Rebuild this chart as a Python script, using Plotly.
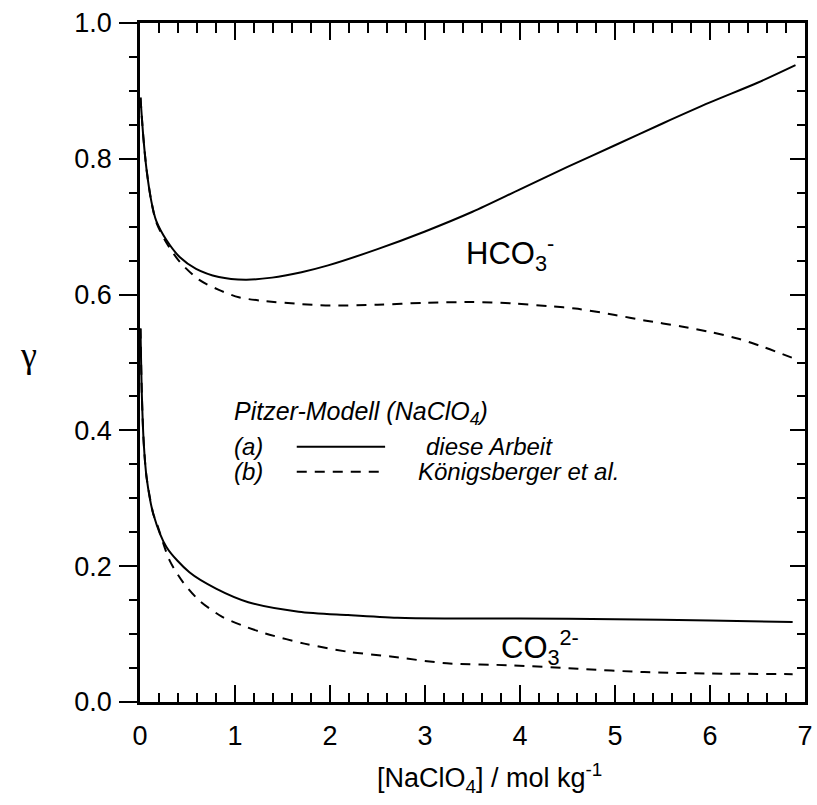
import plotly.graph_objects as go

# ---- data ----
hco3_a_x = [0.005, 0.035, 0.07, 0.12, 0.17, 0.28, 0.42, 0.59, 0.83, 1.11, 1.39, 1.70, 1.98,
            2.5, 3.0, 3.5, 4.0, 4.5, 5.0, 5.5, 6.0, 6.5, 6.9]
hco3_a_y = [0.89, 0.832, 0.783, 0.737, 0.709, 0.680, 0.655, 0.638, 0.626, 0.622, 0.625, 0.633, 0.643,
            0.667, 0.693, 0.722, 0.755, 0.788, 0.820, 0.852, 0.883, 0.912, 0.938]

hco3_b_x = [0.005, 0.035, 0.07, 0.12, 0.17, 0.28, 0.42, 0.62, 0.83, 1.04, 1.28, 1.70, 2.0, 2.5,
            3.0, 3.5, 3.92, 4.3, 4.61, 5.0, 5.31, 5.7, 6.0, 6.3, 6.56, 6.9]
hco3_b_y = [0.89, 0.832, 0.783, 0.737, 0.707, 0.676, 0.648, 0.622, 0.607, 0.596, 0.591, 0.586, 0.584, 0.585,
            0.588, 0.589, 0.587, 0.583, 0.579, 0.570, 0.562, 0.553, 0.545, 0.535, 0.523, 0.505]

co3_a_x = [0.005, 0.02, 0.04, 0.07, 0.14, 0.28, 0.52, 0.80, 1.14, 1.67, 2.19, 2.71, 3.23,
           4.0, 5.0, 6.0, 6.87]
co3_a_y = [0.55, 0.45, 0.38, 0.33, 0.277, 0.228, 0.191, 0.167, 0.147, 0.133, 0.128, 0.124, 0.123,
           0.123, 0.122, 0.120, 0.118]

co3_b_x = [0.005, 0.02, 0.04, 0.07, 0.14, 0.17, 0.31, 0.45, 0.62, 0.87, 1.11, 1.32, 1.73, 2.19, 2.64,
           3.23, 3.92, 4.61, 5.31, 6.0, 6.87]
co3_b_y = [0.55, 0.45, 0.38, 0.33, 0.277, 0.266, 0.209, 0.177, 0.150, 0.125, 0.111, 0.101, 0.086, 0.074, 0.067,
           0.057, 0.054, 0.049, 0.044, 0.042, 0.041]

x_tickvals = [0, 1, 2, 3, 4, 5, 6, 7]
x_ticktext = ["0", "1", "2", "3", "4", "5", "6", "7"]
y_tickvals = [0.0, 0.2, 0.4, 0.6, 0.8, 1.0]
y_ticktext = ["0.0", "0.2", "0.4", "0.6", "0.8", "1.0"]

legend_sample_x = [1.65, 2.58]
legend_a_y = 0.376
legend_b_y = 0.339

FONT = "Liberation Sans, Arial, Helvetica, sans-serif"
DASH = "10px,8px"

fig = go.Figure()

def curve(x, y, dash):
    fig.add_trace(go.Scatter(x=x, y=y, mode="lines", showlegend=False, hoverinfo="skip",
                             line=dict(color="black", width=2, dash=dash, shape="spline", smoothing=0.8)))

curve(hco3_a_x, hco3_a_y, "solid")
curve(hco3_b_x, hco3_b_y, DASH)
curve(co3_a_x, co3_a_y, "solid")
curve(co3_b_x, co3_b_y, DASH)

# legend sample lines
fig.add_trace(go.Scatter(x=legend_sample_x, y=[legend_a_y] * 2, mode="lines", showlegend=False,
                         hoverinfo="skip", line=dict(color="black", width=2)))
fig.add_trace(go.Scatter(x=legend_sample_x, y=[legend_b_y] * 2, mode="lines", showlegend=False,
                         hoverinfo="skip", line=dict(color="black", width=2, dash=DASH)))

# dummy trace for the mirror axes
fig.add_trace(go.Scatter(x=[None], y=[None], xaxis="x2", yaxis="y2", showlegend=False, hoverinfo="skip"))

common_line = dict(showline=True, linecolor="black", linewidth=2.5, showgrid=False, zeroline=False)

fig.update_layout(
    width=817, height=805,
    margin=dict(l=140, r=4, t=23, b=103),
    paper_bgcolor="white", plot_bgcolor="white",
    font=dict(family=FONT, color="black", size=27),
    xaxis=dict(range=[0, 7], tickvals=x_tickvals, ticktext=x_ticktext,
               ticks="inside", ticklen=17, tickwidth=2, tickcolor="black",
               minor=dict(dtick=0.2, tick0=0, ticks="inside", ticklen=9, tickwidth=2, tickcolor="black"),
               tickfont=dict(size=27), ticklabelstandoff=8, ticklabeloverflow="allow",
               **common_line),
    xaxis2=dict(range=[0, 7], overlaying="x", side="top", showticklabels=False,
                tickvals=x_tickvals,
                ticks="inside", ticklen=17, tickwidth=2, tickcolor="black",
                minor=dict(dtick=0.2, tick0=0, ticks="inside", ticklen=10, tickwidth=2, tickcolor="black"),
                **common_line),
    yaxis=dict(range=[0, 1], tickvals=y_tickvals, ticktext=y_ticktext,
               ticks="outside", ticklen=18, tickwidth=2, tickcolor="black",
               minor=dict(dtick=0.05, tick0=0, ticks="outside", ticklen=8, tickwidth=2, tickcolor="black"),
               tickfont=dict(size=27), ticklabelstandoff=2, ticklabeloverflow="allow",
               **common_line),
    yaxis2=dict(range=[0, 1], overlaying="y", side="right", showticklabels=False,
                tickvals=y_tickvals,
                ticks="inside", ticklen=15, tickwidth=2, tickcolor="black",
                minor=dict(dtick=0.05, tick0=0, ticks="inside", ticklen=8, tickwidth=2, tickcolor="black"),
                **common_line),
)

ann = []
ann.append(dict(x=-0.168, y=0.511, xref="paper", yref="paper", text="γ", showarrow=False,
                font=dict(family="Liberation Serif, Times New Roman, serif", size=36),
                xanchor="center", yanchor="middle"))
ann.append(dict(x=0.526, y=-0.112, xref="paper", yref="paper",
                text="[NaClO<sub>4</sub>] / mol kg<sup>-1</sup>", showarrow=False,
                font=dict(size=27), xanchor="center", yanchor="middle"))
ann.append(dict(x=3.41, y=0.661, xref="x", yref="y", text="HCO<sub>3</sub><sup>-</sup>", showarrow=False,
                font=dict(size=31), xanchor="left", yanchor="middle"))
ann.append(dict(x=3.78, y=0.081, xref="x", yref="y", text="CO<sub>3</sub><sup>2-</sup>", showarrow=False,
                font=dict(size=31), xanchor="left", yanchor="middle"))
ann.append(dict(x=0.97, y=0.426, xref="x", yref="y", text="<i>Pitzer-Modell (NaClO<sub>4</sub>)</i>",
                showarrow=False, font=dict(size=25), xanchor="left", yanchor="middle"))
for lbl, yy in (("(a)", legend_a_y), ("(b)", legend_b_y)):
    ann.append(dict(x=0.97, y=yy, xref="x", yref="y", text="<i>" + lbl + "</i>",
                    showarrow=False, font=dict(size=24), xanchor="left", yanchor="middle"))
ann.append(dict(x=2.99, y=legend_a_y, xref="x", yref="y", text="<i>diese Arbeit</i>",
                showarrow=False, font=dict(size=24), xanchor="left", yanchor="middle"))
ann.append(dict(x=2.91, y=legend_b_y, xref="x", yref="y", text="<i>Königsberger et al.</i>",
                showarrow=False, font=dict(size=24), xanchor="left", yanchor="middle"))
fig.update_layout(annotations=ann)

fig.write_html("out.html")
